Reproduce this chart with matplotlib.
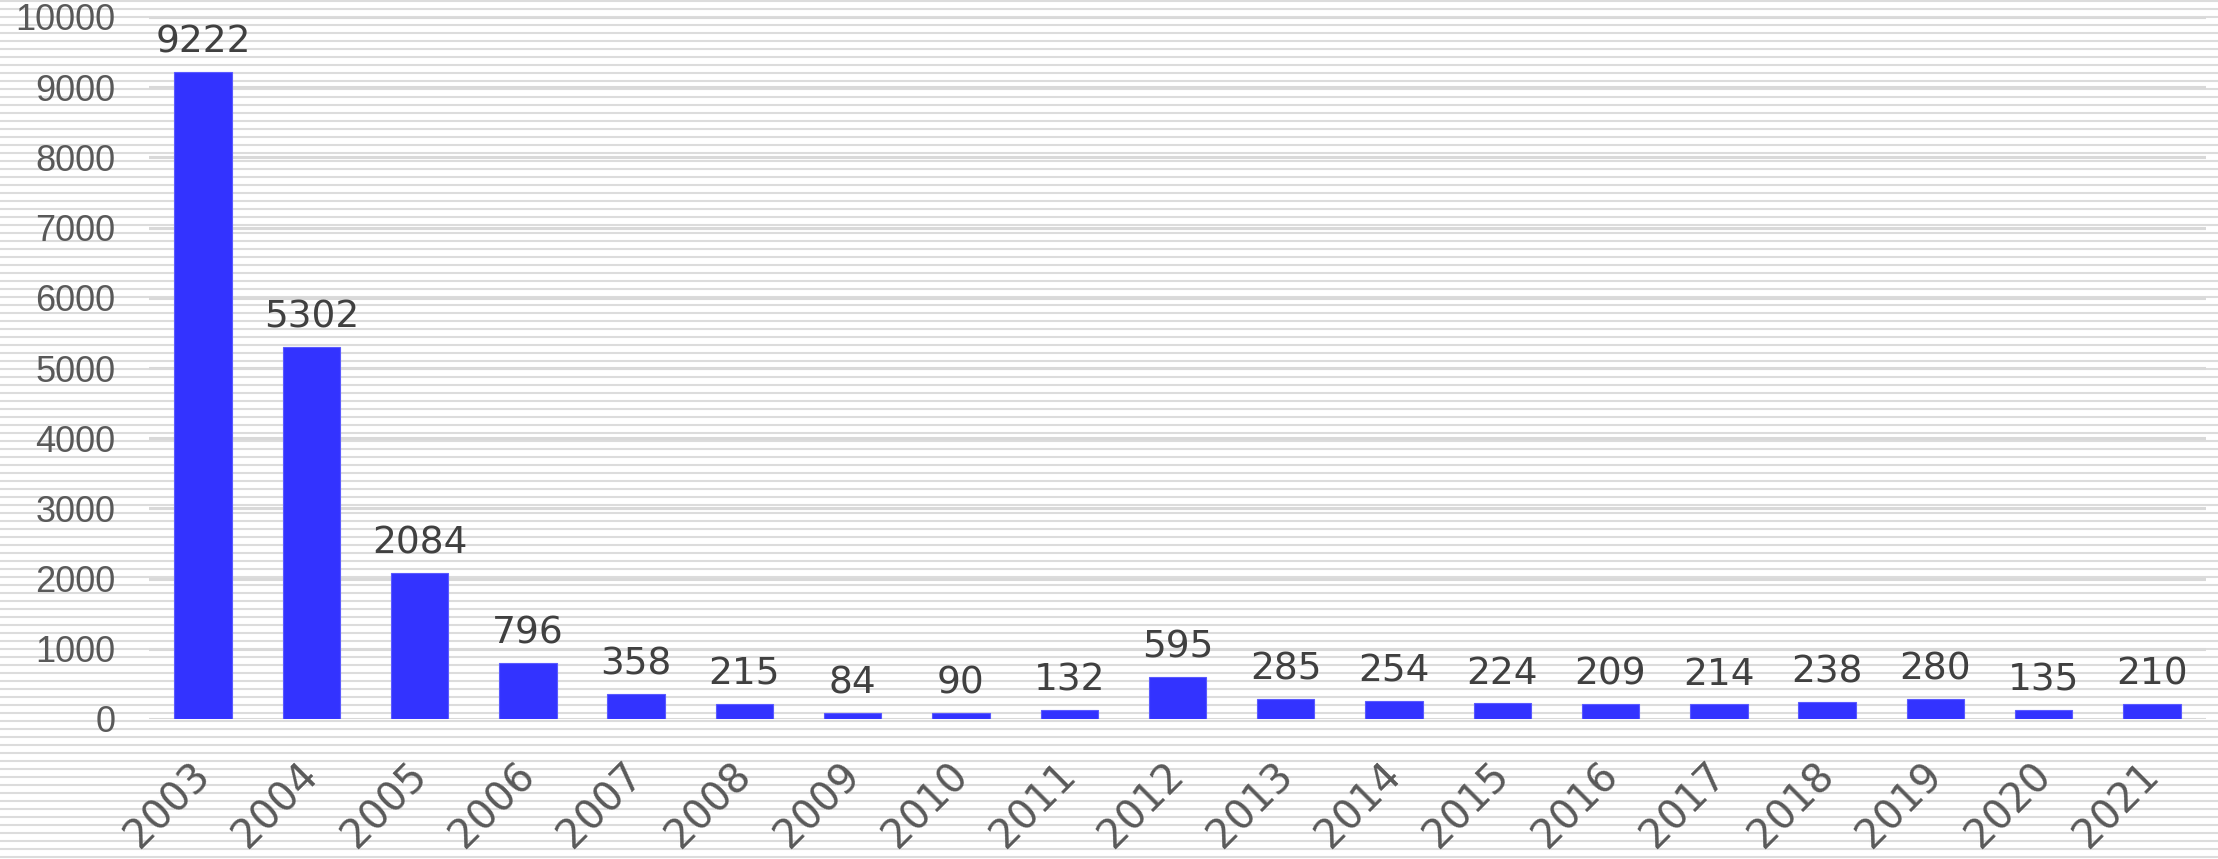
import numpy as np
import matplotlib
matplotlib.use("Agg")
import matplotlib.pyplot as plt
from matplotlib.transforms import ScaledTranslation

# ---------------------------
# Data
# ---------------------------
years = ["2003", "2004", "2005", "2006", "2007", "2008", "2009", "2010", "2011", "2012",
         "2013", "2014", "2015", "2016", "2017", "2018", "2019", "2020", "2021"]
counts = [9222, 5302, 2084, 796, 358, 215, 84, 90, 132, 595,
          285, 254, 224, 209, 214, 238, 280, 135, 210]
y_ticks = [0, 1000, 2000, 3000, 4000, 5000, 6000, 7000, 8000, 9000, 10000]

plt.rcParams["xtick.major.size"] = 0
plt.rcParams["ytick.major.size"] = 0
plt.rcParams["xtick.major.pad"] = 26
plt.rcParams["ytick.major.pad"] = 24

W, H = 2218, 859
fig = plt.figure(figsize=(W / 100, H / 100), dpi=100)

# striped background across the whole figure
bg = fig.add_axes([0, 0, 1, 1], zorder=-1)
bg.set_xlim(0, W)
bg.set_ylim(H, 0)
bg.hlines(np.arange(1, H, 8), 0, W, color="#dcdcdc", lw=1.5)
bg.axis("off")

ax = fig.add_axes([149 / W, 1 - 719 / H, (2206 - 149) / W, (719 - 17) / H])
ax.set_facecolor("none")

x = np.arange(len(years))
ax.bar(x, counts, width=0.53, color="#3333ff", edgecolor="#5a5aff", lw=0.8, zorder=3)

for xi, v in zip(x, counts):
    ax.annotate(str(v), (xi, v), xytext=(0, 14), textcoords="offset points",
                ha="center", va="baseline", fontsize=27, color="#404040",
                family="DejaVu Sans")

ax.set_xlim(-0.5, len(years) - 0.5)
ax.set_ylim(0, 10000)
ax.set_yticks(y_ticks, labels=[str(t) for t in y_ticks], fontsize=26,
              fontfamily="Liberation Sans", color="#595959")
ax.set_xticks(x, labels=years, rotation=45, ha="right", va="top",
              rotation_mode="anchor", fontsize=29, fontfamily="DejaVu Sans",
              color="#595959")

# nudge rotated year labels a bit to the left
shift = ScaledTranslation(-13 / 100, 0, fig.dpi_scale_trans)
for lab in ax.get_xticklabels():
    lab.set_transform(lab.get_transform() + shift)

ax.grid(axis="y", color="#d9d9d9", lw=2.2, zorder=0)
ax.set_axisbelow(True)
for s in ax.spines.values():
    s.set_visible(False)

fig.savefig("out.png", dpi=100)
